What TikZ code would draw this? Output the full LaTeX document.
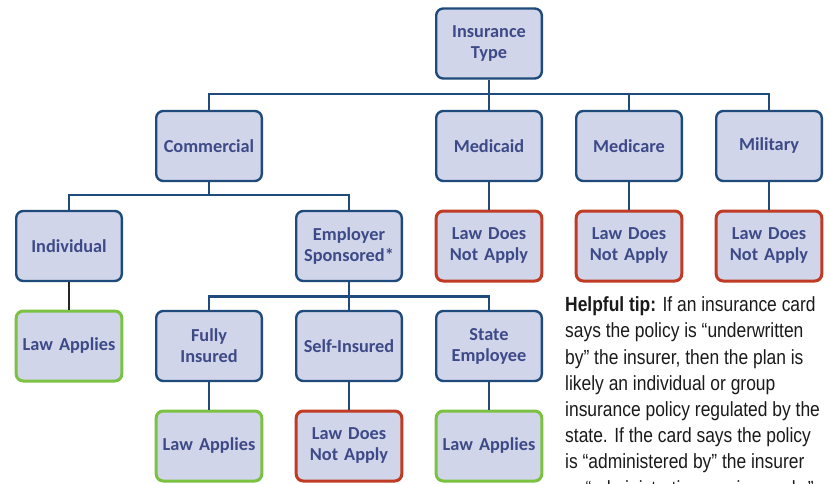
\documentclass[tikz,border=0pt]{standalone}
\usepackage{fontspec}
\setmainfont{Carlito}
\newfontfamily\tipfont[FakeStretch=0.85]{Liberation Sans}
\definecolor{navy}{HTML}{1F4A7C}
\definecolor{boxfill}{HTML}{D0D5E9}
\definecolor{boxtext}{HTML}{3E4A87}
\definecolor{okgreen}{HTML}{7CC242}
\definecolor{nored}{HTML}{BF3B24}
\definecolor{tipgray}{HTML}{1A1A1A}
\begin{document}
\begin{tikzpicture}[x=1pt,y=-1pt,
  box/.style={draw=navy, line width=2.4pt, fill=boxfill, rounded corners=7pt,
    minimum width=105.6pt, minimum height=70pt, text width=104pt, align=center,
    inner sep=0pt, text=boxtext, font=\bfseries\fontsize{18.3}{21}\selectfont},
  applies/.style={box, draw=okgreen, line width=3pt},
  noapply/.style={box, draw=nored, line width=3pt},
  link/.style={draw=navy, line width=2.4pt},
  tip/.style={anchor=base west, inner sep=0pt, text=tipgray,
    font=\tipfont\fontsize{20.5}{26}\selectfont}]
\useasboundingbox (0,0) rectangle (830,484);

% top level
\node[box] (type) at (489,43.5) {Insurance\\Type};

% second row
\node[box] (comm) at (209,146) {Commercial};
\node[box] (medicaid) at (489,146) {Medicaid};
\node[box] (medicare) at (629,146) {Medicare};
\node[box] (military) at (769,146) {Military};

% third row
\node[box] (indiv) at (69,246) {Individual};
\node[box] (employer) at (349,246) {Employer\\Sponsored*};
\node[noapply] (nacaid) at (489,246) {Law Does\\Not Apply};
\node[noapply] (nacare) at (629,246) {Law Does\\Not Apply};
\node[noapply] (namil) at (769,246) {Law Does\\Not Apply};

% fourth row
\node[applies] (laindiv) at (69,346) {Law Applies};
\node[box] (fully) at (209,346) {Fully\\Insured};
\node[box] (self) at (349,346) {Self-Insured};
\node[box] (state) at (489,346) {State\\Employee};

% fifth row
\node[applies] (lafully) at (209,446) {Law Applies};
\node[noapply] (naself) at (349,446) {Law Does\\Not Apply};
\node[applies] (lastate) at (489,446) {Law Applies};

% bus junctions
\coordinate (bustype) at (489,94);
\coordinate (buscomm) at (209,195);
\coordinate (busemp) at (349,296.5);

% connectors
\draw[link] (type.south) -- (bustype);
\foreach \c in {comm,medicaid,medicare,military}
  \draw[link] (\c.north) |- (bustype);
\draw[link] (comm.south) -- (buscomm);
\foreach \c in {indiv,employer}
  \draw[link] (\c.north) |- (buscomm);
\draw[link] (employer.south) -- (busemp);
\foreach \c in {fully,self,state}
  \draw[link] (\c.north) |- (busemp);
\draw[link] (medicaid) -- (nacaid);
\draw[link] (medicare) -- (nacare);
\draw[link] (military) -- (namil);
\draw[link, draw=black!85] (indiv) -- (laindiv);
\draw[link] (fully) -- (lafully);
\draw[link] (self) -- (naself);
\draw[link] (state) -- (lastate);

% helpful tip text, one line per node; the last line runs off the page
\node[tip] (tip1) at (565,311.7) {\bfseries Helpful tip:\mdseries{} If an insurance card};
\node[tip] (tip2) at (565,337.9) {says the policy is “underwritten};
\node[tip] (tip3) at (565,364.1) {by” the insurer, then the plan is};
\node[tip] (tip4) at (565,390.3) {likely an individual or group};
\node[tip] (tip5) at (565,416.5) {insurance policy regulated by the};
\node[tip] (tip6) at (565,442.7) {state. If the card says the policy};
\node[tip] (tip7) at (565,468.9) {is “administered by” the insurer};
\node[tip] (tip8) at (565,495.1) {or “administrative services only,”};
\end{tikzpicture}
\end{document}
